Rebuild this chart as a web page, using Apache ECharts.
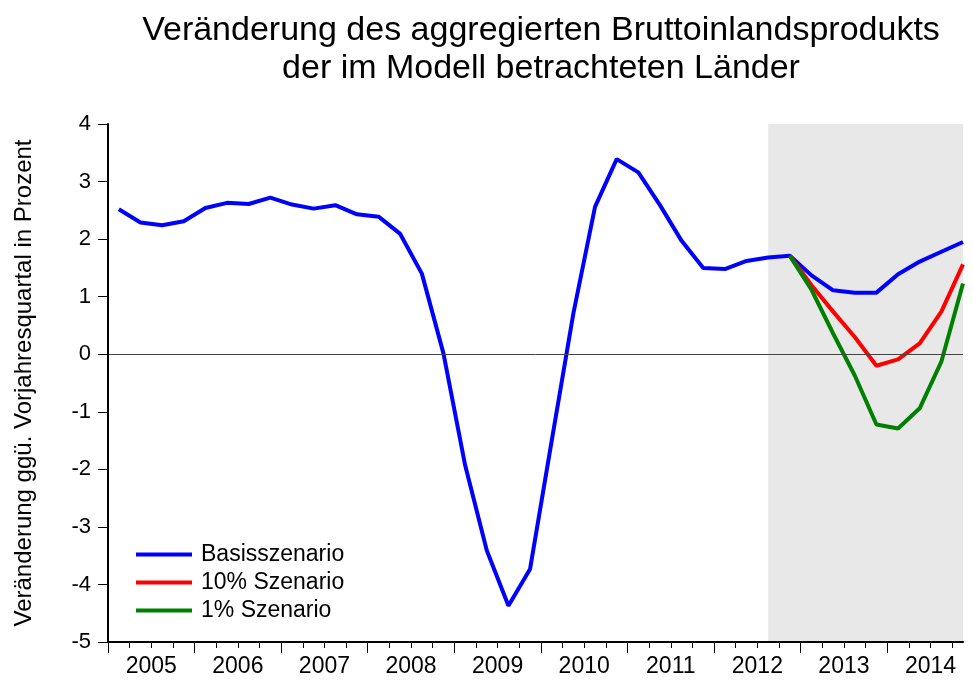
<!DOCTYPE html>
<html>
<head>
<meta charset="utf-8">
<title>BIP Veränderung</title>
<script src="https://cdn.jsdelivr.net/npm/echarts@6/dist/echarts.min.js"></script>
<style>
  html, body { margin: 0; padding: 0; background: #fff; }
  #chart { width: 973px; height: 684px; }
</style>
</head>
<body>
<div id="chart"></div>
<script>
// quarterly values 2005Q1 .. 2014Q4
const years = ['2005', '2006', '2007', '2008', '2009', '2010', '2011', '2012', '2013', '2014']
const basis = [
  2.52, 2.29, 2.24, 2.31, 2.54, 2.63, 2.61, 2.72, 2.60, 2.53,
  2.59, 2.43, 2.39, 2.09, 1.40, 0.01, -1.93, -3.41, -4.37, -3.73,
  -1.50, 0.71, 2.56, 3.39, 3.16, 2.59, 1.97, 1.50, 1.48, 1.62,
  1.68, 1.71, 1.37, 1.11, 1.07, 1.07, 1.39, 1.61, 1.78, 1.95
]
// scenarios start at 2012Q4 (quarter index 31)
const scenStart = 31
const szen10 = [1.71, 1.20, 0.74, 0.30, -0.20, -0.09, 0.19, 0.74, 1.56]
const szen1 = [1.71, 1.12, 0.36, -0.37, -1.22, -1.29, -0.94, -0.13, 1.23]
// forecast shading from 2012Q3
const shadeStart = 30
const yTicks = [-5, -4, -3, -2, -1, 0, 1, 2, 3, 4]

const font = 'Liberation Sans, Arial, sans-serif'

// x in quarter units, point of quarter i sits at i + 0.5
const toPoints = (arr, start) => arr.map((v, i) => [start + i + 0.5, v])

const yearTicks = years.map((y, i) => i * 4)
const quarterTicks = []
for (let q = 1; q < years.length * 4; q++) {
  if (q % 4 !== 0) quarterTicks.push(q)
}
const labelPos = years.map((y, i) => i * 4 + 2)

const xMax = basis.length - 0.5

const chart = echarts.init(document.getElementById('chart'))

chart.setOption({
  animation: false,
  backgroundColor: '#fff',
  graphic: [{
    type: 'text',
    x: 541,
    y: 12,
    style: {
      text: 'Veränderung des aggregierten Bruttoinlandsprodukts\nder im Modell betrachteten Länder',
      font: '34px ' + font,
      fill: '#000',
      textAlign: 'center',
      lineHeight: 38
    }
  }],
  legend: {
    orient: 'vertical',
    left: 131,
    top: 538,
    itemWidth: 56,
    itemHeight: 4,
    itemGap: 5,
    icon: 'rect',
    textStyle: { fontFamily: font, fontSize: 23, color: '#000', padding: [0, 0, 0, 4] },
    data: ['Basisszenario', '10% Szenario', '1% Szenario']
  },
  grid: { left: 108, right: 10, top: 124, bottom: 42 },
  xAxis: [
    {
      type: 'value',
      z: 5,
      min: 0,
      max: xMax,
      axisLine: { onZero: false, lineStyle: { color: '#000', width: 2 } },
      axisTick: { customValues: quarterTicks, length: 6, lineStyle: { color: '#000', width: 1 } },
      axisLabel: {
        customValues: labelPos,
        formatter: v => years[Math.round((v - 2) / 4)],
        fontFamily: font,
        fontSize: 23,
        color: '#000',
        margin: 13
      },
      splitLine: { show: false }
    },
    {
      type: 'value',
      z: 5,
      position: 'bottom',
      min: 0,
      max: xMax,
      axisLine: { show: false, onZero: false },
      axisTick: { customValues: yearTicks, length: 11, lineStyle: { color: '#000', width: 1 } },
      axisLabel: { show: false },
      splitLine: { show: false }
    }
  ],
  yAxis: {
    type: 'value',
    z: 5,
    min: yTicks[0],
    max: yTicks[yTicks.length - 1],
    interval: 1,
    name: 'Veränderung ggü. Vorjahresquartal in Prozent',
    nameLocation: 'middle',
    nameRotate: 90,
    nameGap: 72,
    nameTextStyle: { fontFamily: font, fontSize: 24, color: '#000' },
    axisLine: { show: true, lineStyle: { color: '#000', width: 2 } },
    axisTick: { show: true, length: 10, lineStyle: { color: '#000', width: 1 } },
    axisLabel: { fontFamily: font, fontSize: 22, color: '#000', margin: 17 },
    splitLine: { show: false }
  },
  series: [
    {
      name: 'Basisszenario',
      type: 'line',
      symbol: 'none',
      color: '#0000ff',
      lineStyle: { width: 4 },
      data: toPoints(basis, 0),
      markArea: {
        silent: true,
        itemStyle: { color: '#e8e8e8' },
        data: [[{ xAxis: shadeStart + 0.5 }, { xAxis: xMax }]]
      },
      markLine: {
        silent: true,
        symbol: ['none', 'none'],
        label: { show: false },
        lineStyle: { color: '#444', width: 1, type: 'solid' },
        data: [{ yAxis: 0 }]
      }
    },
    {
      name: '10% Szenario',
      type: 'line',
      symbol: 'none',
      color: '#ff0000',
      lineStyle: { width: 4 },
      data: toPoints(szen10, scenStart)
    },
    {
      name: '1% Szenario',
      type: 'line',
      symbol: 'none',
      color: '#008000',
      lineStyle: { width: 4 },
      data: toPoints(szen1, scenStart)
    }
  ]
})
</script>
</body>
</html>
